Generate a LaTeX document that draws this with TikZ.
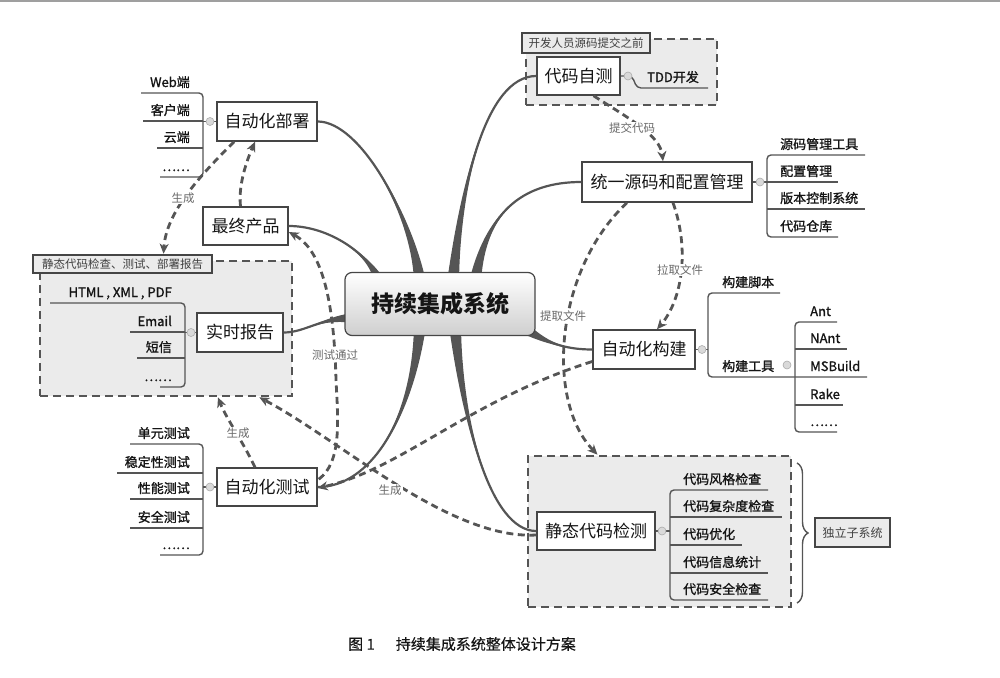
\documentclass[tikz,border=0pt]{standalone}
\usepackage{fontspec}
\setmainfont{Noto Sans CJK SC}
\newfontfamily\leaffont{Noto Sans CJK SC}[FakeBold=1.2]
\newfontfamily\capfont{Noto Sans CJK SC}[FakeBold=0.5]
\usetikzlibrary{arrows.meta,calc,decorations.pathreplacing}
\definecolor{ln}{HTML}{555555}
\definecolor{bx}{HTML}{454545}
\definecolor{grp}{HTML}{EBEBEB}
\definecolor{lbl}{HTML}{6A6A6A}
\definecolor{txt}{HTML}{151515}
\newcommand\brnch[5]{%
  \fill[ln] ($(#1)+#5$) .. controls #2 and #3 .. #4 .. controls #3 and #2 .. ($(#1)-#5$) -- cycle;
  \draw[ln,line width=2.2pt] (#1) .. controls #2 and #3 .. #4;}
\begin{document}
\begin{tikzpicture}[x=1pt,y=-1pt,
  topic/.style={draw=bx,line width=1.5pt,fill=white,inner sep=0pt,text=txt,font=\fontsize{17}{20}\selectfont},
  grpbox/.style={draw=ln,line width=2.6pt,dash pattern=on 8pt off 5pt,fill=grp,inner sep=0pt},
  grptitle/.style={draw=bx,line width=2.6pt,fill=grp,inner sep=0pt,text=black!75,font=\fontsize{11.5}{13}\selectfont},
  leaf/.style={inner sep=0pt,text=txt,font=\leaffont\fontsize{13}{15}\selectfont},
  bar/.style={draw=ln,line width=1.4pt,rounded corners=4pt},
  knob/.style={circle,draw=gray!65,fill=gray!30,line width=0.6pt,minimum size=8pt,inner sep=0pt},
  flow/.style={draw=ln,line width=2.8pt,dash pattern=on 7pt off 4.5pt,-{Stealth[length=10pt,width=9pt,inset=3pt]}},
  flowlbl/.style={fill=white,inner sep=1pt,text=lbl,font=\fontsize{11.5}{13}\selectfont},
]
\useasboundingbox (0,0) rectangle (1000,677);
\fill[gray!75] (0,0) rectangle (1000,2.5);

% groups
\node[grpbox,minimum width=252pt,minimum height=135pt] (grpR) at (166,328.5) {};
\node[grpbox,minimum width=191pt,minimum height=66pt] (grpT) at (621.5,72) {};
\node[grpbox,minimum width=263pt,minimum height=151pt] (grpS) at (659.5,531.5) {};
\node[grptitle,minimum width=179pt,minimum height=18pt] (ttlR) at (122.5,264) {静态代码检查、测试、部署报告};
\node[grptitle,minimum width=128pt,minimum height=20pt] (ttlT) at (586,43) {开发人员源码提交之前};

% topics
\node[topic,minimum width=100pt,minimum height=39pt] (bs) at (267,121.5) {自动化部署};
\node[topic,minimum width=85pt,minimum height=38pt] (zz) at (245.5,226) {最终产品};
\node[topic,minimum width=86pt,minimum height=39pt] (ss) at (240,332.5) {实时报告};
\node[topic,minimum width=100pt,minimum height=38pt] (cs) at (267,487) {自动化测试};
\node[topic,minimum width=83pt,minimum height=38pt] (zc) at (578.5,76) {代码自测};
\node[topic,minimum width=170pt,minimum height=40pt] (ty) at (667,182) {统一源码和配置管理};
\node[topic,minimum width=102pt,minimum height=39pt] (gj) at (644,349.5) {自动化构建};
\node[topic,minimum width=118pt,minimum height=38pt] (jt) at (596,531) {静态代码检测};
\node[draw=bx,line width=2.6pt,fill=grp,inner sep=0pt,text=black!75,font=\fontsize{12}{14}\selectfont,minimum width=75pt,minimum height=29pt] (dl) at (852.5,532.5) {独立子系统};

% branch starts
\coordinate (b1s) at (420,282);
\coordinate (b2s) at (380,282);
\coordinate (b3s) at (453,282);
\coordinate (b4s) at (475,282);
\coordinate (b5s) at (528,330);
\coordinate (b6s) at (455,326);
\coordinate (b7s) at (420,326);
\coordinate (b8s) at (352,318);
\brnch{b1s}{(412,215)}{(360,121.5)}{(bs.east)}{(6,0)}
\brnch{b2s}{(370,255)}{(330,226)}{(zz.east)}{(6,0)}
\brnch{b3s}{(460,190)}{(485,76)}{(zc.west)}{(6,0)}
\brnch{b4s}{(485,215)}{(520,182)}{(ty.west)}{(6,0)}
\brnch{b5s}{(550,345)}{(570,349.5)}{(gj.west)}{(0,6)}
\brnch{b6s}{(462,420)}{(490,531)}{(jt.west)}{(6,0)}
\brnch{b7s}{(412,420)}{(370,487)}{(cs.east)}{(6,0)}
\brnch{b8s}{(320,318)}{(305,332.5)}{(ss.east)}{(0,5)}

% center
\node[draw=gray!55!black,line width=1.2pt,rounded corners=7pt,top color=white,bottom color=gray!38,
  minimum width=190pt,minimum height=63pt,inner sep=0pt,text=txt,font=\fontsize{23}{26}\selectfont\bfseries] (ctr) at (440,304) {持续集成系统};

% flows
\draw[flow] ($(zc.south)+(15,0)$) .. controls (628,118) and (660,135) .. ($(ty.north)+(-4,0)$);
\draw[flow] ($(ty.south)+(6,0)$) .. controls (690,250) and (682,300) .. ($(gj.north)+(13,0)$);
\draw[flow] ($(ty.south)+(-40,0)$) .. controls (555,270) and (545,400) .. ($(grpS.north)+(-62,0)$);
\draw[flow] ($(gj.west)+(0,12)$) .. controls (470,400) and (400,470) .. ($(cs.east)+(0,1)$);
\draw[flow] ($(cs.north east)+(1,12)$) .. controls (342,462) and (338,420) .. (336,380) .. controls (334,300) and (322,250) .. ($(zz.east)+(0,6)$);
\draw[flow] ($(cs.north)+(-12,0)$) .. controls (242,440) and (226,418) .. ($(grpR.south)+(52,0)$);
\draw[flow] ($(jt.west)+(0,4)$) .. controls (450,540) and (340,440) .. ($(grpR.south east)+(-34,0)$);
\draw[flow] ($(bs.south west)+(18,0)$) .. controls (195,180) and (166,215) .. ($(ttlR.north)+(41,0)$);
\draw[flow] ($(zz.north)+(-5,0)$) .. controls (238,185) and (247,160) .. ($(bs.south)+(-12,0)$);

\node[flowlbl] (l1) at (632,128) {提交代码};
\node[flowlbl] (l2) at (680,270) {拉取文件};
\node[flowlbl] (l3) at (563,316) {提取文件};
\node[flowlbl] (l4) at (335,355) {测试通过};
\node[flowlbl] (l5) at (238,433) {生成};
\node[flowlbl] (l6) at (390,490) {生成};
\node[flowlbl] (l7) at (183,198) {生成};

% sub-trees: 自动化部署
\draw[bar] (141,93) -- (203,93) -- (203,177) -- (160,177);
\draw[bar] (143,121) -- (203,121);
\draw[bar] (157,148) -- (203,148);
\draw[bar] (203,121.5) -- (bs.west);
\node[knob] (k1) at (210,121.5) {};
\node[leaf,anchor=base east] (a1) at (190,87) {Web端};
\node[leaf,anchor=base east] (a2) at (190,115) {客户端};
\node[leaf,anchor=base east] (a3) at (190,142) {云端};
\node[leaf,anchor=base east] (a4) at (190,171) {……};

% 实时报告
\draw[bar] (50,303) -- (185,303) -- (185,387) -- (160,387);
\draw[bar] (130,332) -- (185,332);
\draw[bar] (137,358) -- (185,358);
\draw[bar] (185,332.5) -- (ss.west);
\node[knob] (k2) at (191,332.5) {};
\node[leaf,anchor=base east] (r1) at (172,297) {HTML , XML , PDF};
\node[leaf,anchor=base east] (r2) at (172,326) {Email};
\node[leaf,anchor=base east] (r3) at (172,352) {短信};
\node[leaf,anchor=base east] (r4) at (172,381) {……};

% 自动化测试
\draw[bar] (130,444) -- (203,444) -- (203,555) -- (160,555);
\draw[bar] (117,473) -- (203,473);
\draw[bar] (130,499) -- (203,499);
\draw[bar] (130,528) -- (203,528);
\draw[bar] (203,487) -- (cs.west);
\node[knob] (k3) at (210,487) {};
\node[leaf,anchor=base east] (t1) at (190,438) {单元测试};
\node[leaf,anchor=base east] (t2) at (190,467) {稳定性测试};
\node[leaf,anchor=base east] (t3) at (190,493) {性能测试};
\node[leaf,anchor=base east] (t4) at (190,522) {安全测试};
\node[leaf,anchor=base east] (t5) at (190,549) {……};

% 代码自测
\draw[bar] (zc.east) -- (632,76) -- (637,88) -- (708,88);
\node[knob] (k4) at (628,76) {};
\node[leaf,anchor=base west] (tdd) at (647,82) {TDD开发};

% 统一源码
\draw[bar] (865,155) -- (767,155) -- (767,237) -- (838,237);
\draw[bar] (767,182) -- (838,182);
\draw[bar] (767,209) -- (865,209);
\draw[bar] (ty.east) -- (767,182);
\node[knob] (k5) at (760,182) {};
\node[leaf,anchor=base west] (y1) at (780,149) {源码管理工具};
\node[leaf,anchor=base west] (y2) at (780,176) {配置管理};
\node[leaf,anchor=base west] (y3) at (780,203) {版本控制系统};
\node[leaf,anchor=base west] (y4) at (780,231) {代码仓库};

% 自动化构建
\draw[bar] (780,293) -- (708,293) -- (708,377) -- (867,377);
\draw[bar] (gj.east) -- (708,349.5);
\node[knob] (k6) at (702,349.5) {};
\node[leaf,anchor=base west] (g1) at (722,287) {构建脚本};
\node[leaf,anchor=base west] (g2) at (722,371) {构建工具};
\draw[bar] (837,322) -- (795,322) -- (795,432) -- (837,432);
\draw[bar] (795,349) -- (847,349);
\draw[bar] (795,405) -- (843,405);
\node[knob] (k7) at (787,365) {};
\node[leaf,anchor=base west] (h1) at (810,316) {Ant};
\node[leaf,anchor=base west] (h2) at (810,343) {NAnt};
\node[leaf,anchor=base west] (h3) at (810,371) {MSBuild};
\node[leaf,anchor=base west] (h4) at (810,399) {Rake};
\node[leaf,anchor=base west] (h5) at (810,426) {……};

% 静态代码检测
\draw[bar] (768,490) -- (670,490) -- (670,600) -- (768,600);
\draw[bar] (670,517) -- (782,517);
\draw[bar] (670,545) -- (742,545);
\draw[bar] (670,573) -- (768,573);
\draw[bar] (jt.east) -- (670,531);
\node[knob] (k8) at (662,531) {};
\node[leaf,anchor=base west] (s1) at (683,484) {代码风格检查};
\node[leaf,anchor=base west] (s2) at (683,511) {代码复杂度检查};
\node[leaf,anchor=base west] (s3) at (683,539) {代码优化};
\node[leaf,anchor=base west] (s4) at (683,567) {代码信息统计};
\node[leaf,anchor=base west] (s5) at (683,594) {代码安全检查};

% brace
\coordinate (brT) at (797,463);
\coordinate (brB) at (797,603);
\draw[ln,line width=1.4pt,decorate,decoration={brace,amplitude=11pt}] (brT) -- (brB);

% caption
\node[text=txt,font=\capfont\fontsize{15}{18}\selectfont] (cap) at (462,644) {图 1\hspace{1.4em}持续集成系统整体设计方案};
\end{tikzpicture}
\end{document}
